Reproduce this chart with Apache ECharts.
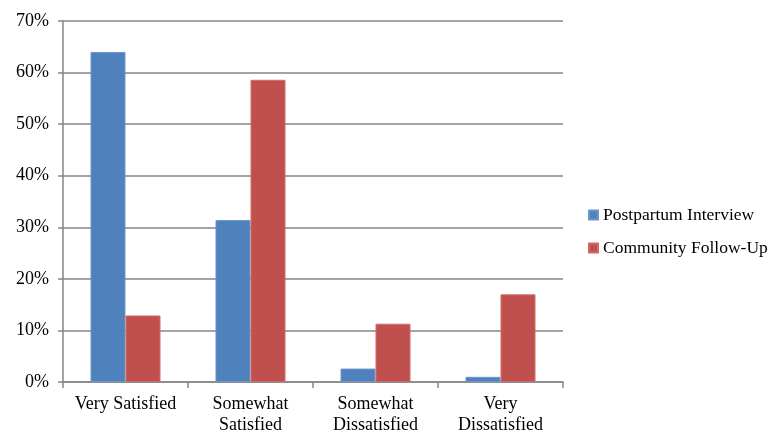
<!DOCTYPE html>
<html><head><meta charset="utf-8">
<script src="https://cdn.jsdelivr.net/npm/echarts@6/dist/echarts.min.js"></script>
<style>html,body{margin:0;padding:0;background:#fff}#c{width:772px;height:432px}</style>
</head><body><div id="c"></div>
<script>
const categories = ['Very Satisfied', 'Somewhat\nSatisfied', 'Somewhat\nDissatisfied', 'Very\nDissatisfied'];
const postpartum = [64.0, 31.4, 2.6, 1.0];
const community = [12.9, 58.6, 11.3, 17.0];
const seriesNames = ['Postpartum Interview', 'Community Follow-Up'];
const FONT = 'Liberation Serif';
const chart = echarts.init(document.getElementById('c'));
chart.setOption({
  animation: false,
  textStyle: {fontFamily: FONT},
  grid: {left: 63, right: 209, top: 21, bottom: 50, outerBoundsMode: 'none', containLabel: false},
  legend: {
    orient: 'vertical', left: 583, top: 201, itemWidth: 9, itemHeight: 9, itemGap: 15,
    icon: 'rect', textStyle: {fontFamily: FONT, fontSize: 17.5, color: '#000'},
    data: seriesNames
  },
  xAxis: {
    type: 'category', data: categories,
    axisLine: {lineStyle: {color: '#868686', width: 1.5}},
    axisTick: {show: true, length: 6, lineStyle: {color: '#868686', width: 1.5}},
    axisLabel: {interval: 0, fontFamily: FONT, fontSize: 18, color: '#000', margin: 12, lineHeight: 21}
  },
  yAxis: {
    type: 'value', min: 0, max: 70, interval: 10,
    axisLine: {show: true, lineStyle: {color: '#868686', width: 1.5}},
    axisTick: {show: true, length: 5, lineStyle: {color: '#868686', width: 1.5}},
    splitLine: {lineStyle: {color: '#868686', width: 1.5}},
    axisLabel: {fontFamily: FONT, fontSize: 18, color: '#000', margin: 14, formatter: '{value}%'}
  },
  series: [
    {name: seriesNames[0], type: 'bar', data: postpartum, barGap: '0%', barCategoryGap: '44%',
     itemStyle: {color: '#4F81BD', borderColor: '#6B96CB', borderWidth: 1}},
    {name: seriesNames[1], type: 'bar', data: community, barGap: '0%', barCategoryGap: '44%',
     itemStyle: {color: '#C0504D', borderColor: '#D06A67', borderWidth: 1}}
  ]
});
</script></body></html>
